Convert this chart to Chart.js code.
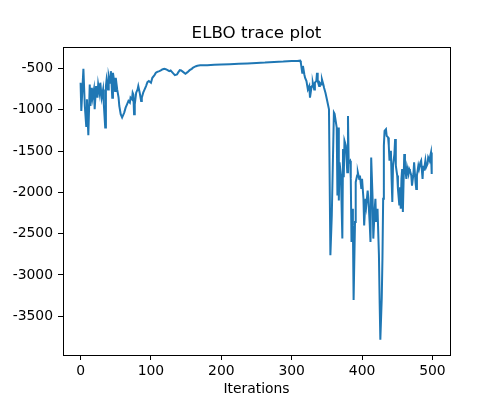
<!DOCTYPE html>
<html>
<head>
<meta charset="utf-8">
<script src="https://cdn.jsdelivr.net/npm/chart.js@4"></script>
<style>
  body { margin: 0; background: #fff; }
</style>
</head>
<body>
<canvas id="myChart" width="500" height="400"></canvas>
<script>
// valores
const iterations = [
  0, 1, 4, 6, 8, 9, 11, 13, 14, 16, 17, 19, 20, 22, 24, 25, 27, 28, 30, 32,
  33, 35, 36, 37, 39, 40, 42, 43, 44, 45, 46, 48, 49, 50, 52, 54, 55, 57, 59, 62,
  64, 66, 68, 70, 71, 73, 74, 75, 76, 77, 79, 81, 82, 84, 86, 87, 89, 91, 93, 95,
  97, 100, 102, 105, 107, 109, 112, 114, 116, 119, 121, 123, 126, 128, 131, 134, 137, 139, 141, 143,
  146, 149, 152, 155, 158, 160, 164, 166, 170,
  180, 190, 200, 212, 225, 237, 250, 262, 275, 288, 300, 308, 312,
  313, 315, 316, 318, 319, 321, 323, 325, 326, 328, 329, 330, 332, 333, 335, 336, 337, 339, 340, 342,
  343, 345, 346, 348, 350, 353, 355, 357, 360, 361, 364, 365, 366, 367, 368, 370, 372, 373, 374, 375,
  377, 379, 380, 381, 383, 384, 385, 386, 387, 388, 390, 391, 393, 394, 396, 397, 399, 400, 402, 403,
  405, 406, 408, 409, 411, 412, 413, 415, 416, 418, 419, 420, 422, 424, 425, 426,
  428, 429, 430, 431, 432, 434, 435, 437, 438, 439, 441, 442, 443, 444, 446, 447, 448, 450, 451, 453,
  454, 455, 456, 457, 458, 459, 460, 461, 463, 464, 466, 467, 468, 470, 471, 473, 474, 476, 477, 478,
  480, 481, 483, 484, 486, 487, 488, 490, 491, 493, 494, 496, 497, 498, 499
];

const elbo = [
  -672, -1014, -504, -954, -1195, -873, -1307, -693, -954, -733, -853, -753, -994, -713, -853, -693, -800, -672, -853, -753,
  -934, -1215, -713, -632, -753, -592, -672, -532, -672, -853, -552, -672, -773, -612, -753, -853, -954, -1054, -1094, -1034,
  -974, -934, -893, -913, -853, -873, -793, -813, -1054, -934, -793, -753, -713, -793, -893, -853, -793, -753, -713, -665,
  -652, -672, -612, -580, -552, -540, -532, -524, -512, -504, -508, -516, -532, -524, -552, -580, -572, -544, -520, -524,
  -544, -564, -544, -520, -504, -488, -472, -466, -462,
  -460, -456, -452, -448, -442, -438, -432, -428, -420, -416, -410, -408, -405,
  -430, -552, -470, -572, -612, -652, -753, -713, -853, -733, -713, -672, -753, -672, -652, -552, -652, -713, -672, -693,
  -632, -693, -733, -793, -873, -994, -2761, -2280, -1034, -1050, -1215, -2038, -1215, -2098, -1637, -1797, -2560, -1476, -1817, -1375,
  -1436, -1757, -1074, -1637, -1617, -1837, -2600, -2198, -2400, -3303, -2359, -1877, -1797, -1757, -1837, -1797, -1958, -1837, -2078, -2400,
  -2078, -2158, -1978, -2078, -2400, -2601, -1577, -2078, -2560, -2198, -2078, -2359, -2198, -2761, -3323, -3785,
  -3283, -2801, -2078, -1436, -1255, -1235, -1315, -1335, -1436, -1617, -1496, -1837, -2118, -1677, -1537, -1355, -1677, -1797, -1958, -2158,
  -1938, -2198, -1837, -1717, -2238, -1877, -1537, -1677, -1837, -1697, -1777, -1717, -1737, -1797, -1918, -1777, -1637, -1877, -1958, -1797,
  -1677, -1717, -1637, -1617, -1837, -1677, -1737, -1617, -1697, -1657, -1577, -1617, -1557, -1517, -1777
];

const xTicks = [0, 100, 200, 300, 400, 500];
const yTicks = [-500, -1000, -1500, -2000, -2500, -3000, -3500];

Chart.defaults.font.family = "'DejaVu Sans', sans-serif";
Chart.defaults.color = "#000";

// marco completo como en matplotlib
const marco = {
  id: "marco",
  afterDraw(chart) {
    const a = chart.chartArea;
    const ctx = chart.ctx;
    ctx.save();
    ctx.strokeStyle = "#000";
    ctx.lineWidth = 1;
    ctx.strokeRect(Math.round(a.left) + 0.5, Math.round(a.top) + 0.5,
                   Math.round(a.right - a.left), Math.round(a.bottom - a.top));
    ctx.restore();
  }
};

new Chart(document.getElementById("myChart"), {
  type: "line",
  data: {
    datasets: [{
      data: iterations.map((it, i) => ({ x: it, y: elbo[i] })),
      borderColor: "#1f77b4",
      borderWidth: 2,
      pointRadius: 0,
      tension: 0,
      fill: false
    }]
  },
  options: {
    responsive: false,
    animation: false,
    devicePixelRatio: 1,
    layout: { padding: { left: 13, right: 0, top: 0, bottom: 0 } },
    plugins: {
      legend: { display: false },
      tooltip: { enabled: false },
      title: {
        display: true,
        text: "ELBO trace plot",
        color: "#000",
        font: { size: 16.7, weight: "normal" },
        padding: { top: 24, bottom: 3 }
      }
    },
    scales: {
      x: {
        type: "linear",
        min: -25,
        max: 525,
        afterFit: s => { s.height = 45; },
        afterBuildTicks: s => { s.ticks = xTicks.map(v => ({ value: v })); },
        ticks: { font: { size: 13.9 }, padding: 3, maxRotation: 0, callback: v => String(v) },
        grid: { display: true, drawOnChartArea: false, drawTicks: true, tickLength: 5, color: "#000" },
        border: { display: true, color: "#000" },
        title: {
          display: true,
          text: "Iterations",
          font: { size: 13.9 },
          padding: { top: 0, bottom: 2 }
        }
      },
      y: {
        type: "linear",
        min: -3970,
        max: -240,
        afterFit: s => { s.width = 50; },
        afterBuildTicks: s => { s.ticks = yTicks.map(v => ({ value: v })); },
        ticks: { font: { size: 13.9 }, padding: 5, callback: v => String(v) },
        grid: { display: true, drawOnChartArea: false, drawTicks: true, tickLength: 5, color: "#000" },
        border: { display: true, color: "#000" }
      },
      // eje vacio a la derecha solo para dejar el margen
      y2: {
        type: "linear",
        position: "right",
        afterFit: s => { s.width = 50; },
        ticks: { display: false },
        grid: { display: false },
        border: { display: false }
      }
    }
  },
  plugins: [marco]
});
</script>
</body>
</html>
